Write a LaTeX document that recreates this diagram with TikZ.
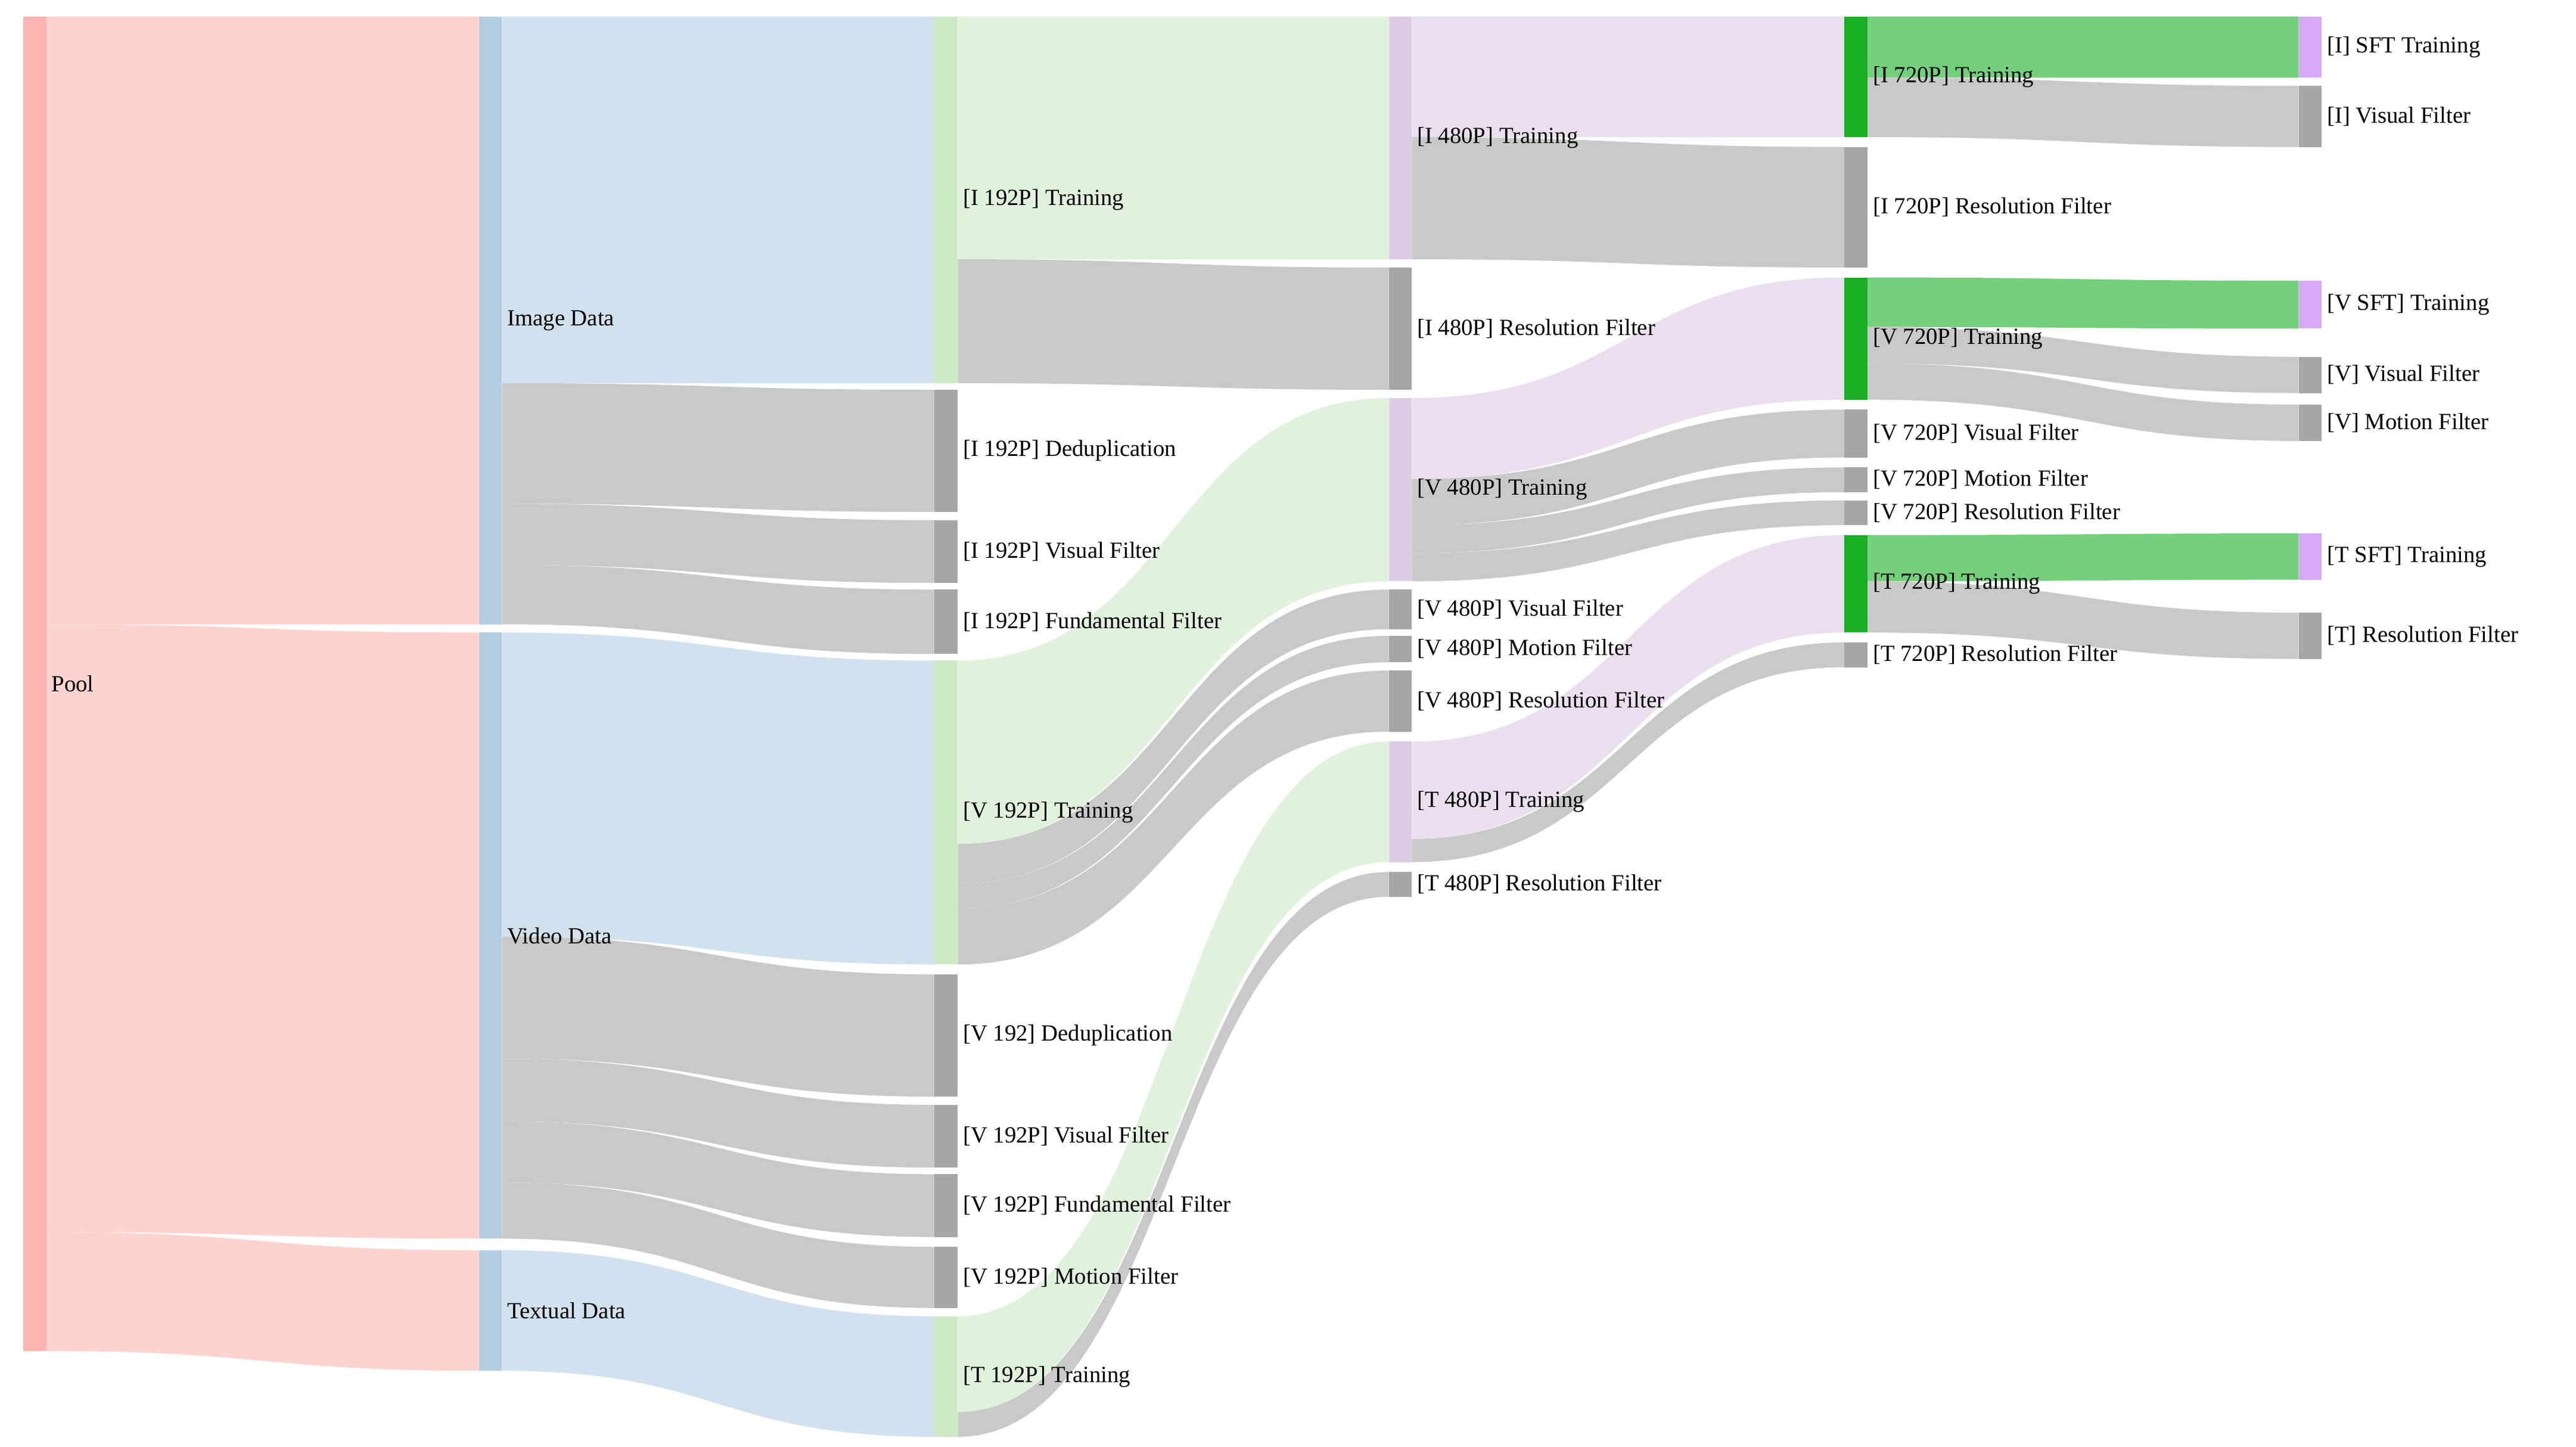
\documentclass[tikz,border=0pt]{standalone}
\usepackage{fontspec}
\setmainfont{Liberation Serif}
\definecolor{poolbar}{HTML}{FBB4AE}
\definecolor{poollink}{HTML}{FDD3D0}
\definecolor{databar}{HTML}{B3CDE3}
\definecolor{datalink}{HTML}{D2E1EE}
\definecolor{lowbar}{HTML}{CCEBC5}
\definecolor{lowlink}{HTML}{E0F2DC}
\definecolor{midbar}{HTML}{DECBE4}
\definecolor{midlink}{HTML}{EBDFEF}
\definecolor{highbar}{HTML}{1AAF24}
\definecolor{highlink}{HTML}{74D07C}
\definecolor{sftbar}{HTML}{D6AAF5}
\definecolor{filterbar}{HTML}{A6A6A6}
\definecolor{filterlink}{HTML}{C9C9C9}
% flow: colour, x source, top, bottom, x target, top, bottom
\newcommand{\flow}[7]{\fill[#1] (#2,#3) .. controls ({(#2+#5)/2},#3) and ({(#2+#5)/2},#6) .. (#5,#6)
  -- (#5,#7) .. controls ({(#2+#5)/2},#7) and ({(#2+#5)/2},#4) .. (#2,#4) -- cycle;}
% stage: colour, x, top, bottom, name, label
\newcommand{\stage}[6]{\fill[#1] (#2,#3) rectangle ({#2+14},#4);
  \node[lbl] (#5) at ({#2+16},{(#3+#4)/2}) {#6};}
\begin{document}
\begin{tikzpicture}[x=1pt,y=-1pt,lbl/.style={anchor=west,inner sep=1pt,font=\fontsize{14}{16}\selectfont}]
\useasboundingbox (0,0) rectangle (1560,876);
% pool
\flow{poollink}{28}{10}{378}{290}{10}{378}
\flow{poollink}{28}{378}{746}{290}{383}{750}
\flow{poollink}{28}{746}{818}{290}{757}{830}
% data
\flow{datalink}{304}{10}{232}{566}{10}{232}
\flow{filterlink}{304}{232}{305}{566}{236}{310}
\flow{filterlink}{304}{305}{342}{566}{315}{353}
\flow{filterlink}{304}{342}{378}{566}{357}{396}
\flow{datalink}{304}{383}{567}{566}{400}{584}
\flow{filterlink}{304}{567}{641}{566}{590}{664}
\flow{filterlink}{304}{641}{679}{566}{669}{707}
\flow{filterlink}{304}{679}{716}{566}{711}{749}
\flow{filterlink}{304}{716}{750}{566}{755}{792}
\flow{datalink}{304}{757}{830}{566}{797}{870}
% 192P
\flow{lowlink}{580}{10}{157}{841}{10}{157}
\flow{filterlink}{580}{157}{232}{841}{162}{236}
\flow{lowlink}{580}{400}{511}{841}{241}{352}
\flow{filterlink}{580}{511}{535}{841}{357}{381}
\flow{filterlink}{580}{535}{550}{841}{385}{401}
\flow{filterlink}{580}{550}{584}{841}{406}{443}
\flow{lowlink}{580}{797}{855}{841}{449}{522}
\flow{filterlink}{580}{855}{870}{841}{528}{543}
% 480P
\flow{midlink}{855}{10}{83}{1117}{10}{83}
\flow{filterlink}{855}{83}{157}{1117}{89}{162}
\flow{midlink}{855}{241}{290}{1117}{168}{242}
\flow{filterlink}{855}{290}{318}{1117}{248}{277}
\flow{filterlink}{855}{318}{335}{1117}{283}{298}
\flow{filterlink}{855}{335}{352}{1117}{303}{318}
\flow{midlink}{855}{449}{508}{1117}{324}{383}
\flow{filterlink}{855}{508}{522}{1117}{389}{404}
% 720P
\flow{highlink}{1131}{10}{47}{1392}{10}{47}
\flow{filterlink}{1131}{47}{83}{1392}{52}{89}
\flow{highlink}{1131}{168}{198}{1392}{170}{199}
\flow{filterlink}{1131}{198}{220}{1392}{216}{238}
\flow{filterlink}{1131}{220}{242}{1392}{245}{267}
\flow{highlink}{1131}{324}{352}{1392}{323}{351}
\flow{filterlink}{1131}{352}{383}{1392}{371}{399}
% bars
\stage{poolbar}{14}{10}{818}{pool}{Pool}
\stage{databar}{290}{10}{378}{img}{Image Data}
\stage{databar}{290}{383}{750}{vid}{Video Data}
\stage{databar}{290}{757}{830}{txt}{Textual Data}
\stage{lowbar}{566}{10}{232}{itrainlow}{[I 192P] Training}
\stage{filterbar}{566}{236}{310}{idedup}{[I 192P] Deduplication}
\stage{filterbar}{566}{315}{353}{ivisual}{[I 192P] Visual Filter}
\stage{filterbar}{566}{357}{396}{ifund}{[I 192P] Fundamental Filter}
\stage{lowbar}{566}{400}{584}{vtrainlow}{[V 192P] Training}
\stage{filterbar}{566}{590}{664}{vdedup}{[V 192] Deduplication}
\stage{filterbar}{566}{669}{707}{vvisual}{[V 192P] Visual Filter}
\stage{filterbar}{566}{711}{749}{vfund}{[V 192P] Fundamental Filter}
\stage{filterbar}{566}{755}{792}{vmotion}{[V 192P] Motion Filter}
\stage{lowbar}{566}{797}{870}{ttrainlow}{[T 192P] Training}
\stage{midbar}{841}{10}{157}{itrainmid}{[I 480P] Training}
\stage{filterbar}{841}{162}{236}{iresmid}{[I 480P] Resolution Filter}
\stage{midbar}{841}{241}{352}{vtrainmid}{[V 480P] Training}
\stage{filterbar}{841}{357}{381}{vvisualmid}{[V 480P] Visual Filter}
\stage{filterbar}{841}{385}{401}{vmotionmid}{[V 480P] Motion Filter}
\stage{filterbar}{841}{406}{443}{vresmid}{[V 480P] Resolution Filter}
\stage{midbar}{841}{449}{522}{ttrainmid}{[T 480P] Training}
\stage{filterbar}{841}{528}{543}{tresmid}{[T 480P] Resolution Filter}
\stage{highbar}{1117}{10}{83}{itrainhigh}{[I 720P] Training}
\stage{filterbar}{1117}{89}{162}{ireshigh}{[I 720P] Resolution Filter}
\stage{highbar}{1117}{168}{242}{vtrainhigh}{[V 720P] Training}
\stage{filterbar}{1117}{248}{277}{vvisualhigh}{[V 720P] Visual Filter}
\stage{filterbar}{1117}{283}{298}{vmotionhigh}{[V 720P] Motion Filter}
\stage{filterbar}{1117}{303}{318}{vreshigh}{[V 720P] Resolution Filter}
\stage{highbar}{1117}{324}{383}{ttrainhigh}{[T 720P] Training}
\stage{filterbar}{1117}{389}{404}{treshigh}{[T 720P] Resolution Filter}
\stage{sftbar}{1392}{10}{47}{isft}{[I] SFT Training}
\stage{filterbar}{1392}{52}{89}{ivisualsft}{[I] Visual Filter}
\stage{sftbar}{1392}{170}{199}{vsft}{[V SFT] Training}
\stage{filterbar}{1392}{216}{238}{vvisualsft}{[V] Visual Filter}
\stage{filterbar}{1392}{245}{267}{vmotionsft}{[V] Motion Filter}
\stage{sftbar}{1392}{323}{351}{tsft}{[T SFT] Training}
\stage{filterbar}{1392}{371}{399}{tressft}{[T] Resolution Filter}
\end{tikzpicture}
\end{document}
